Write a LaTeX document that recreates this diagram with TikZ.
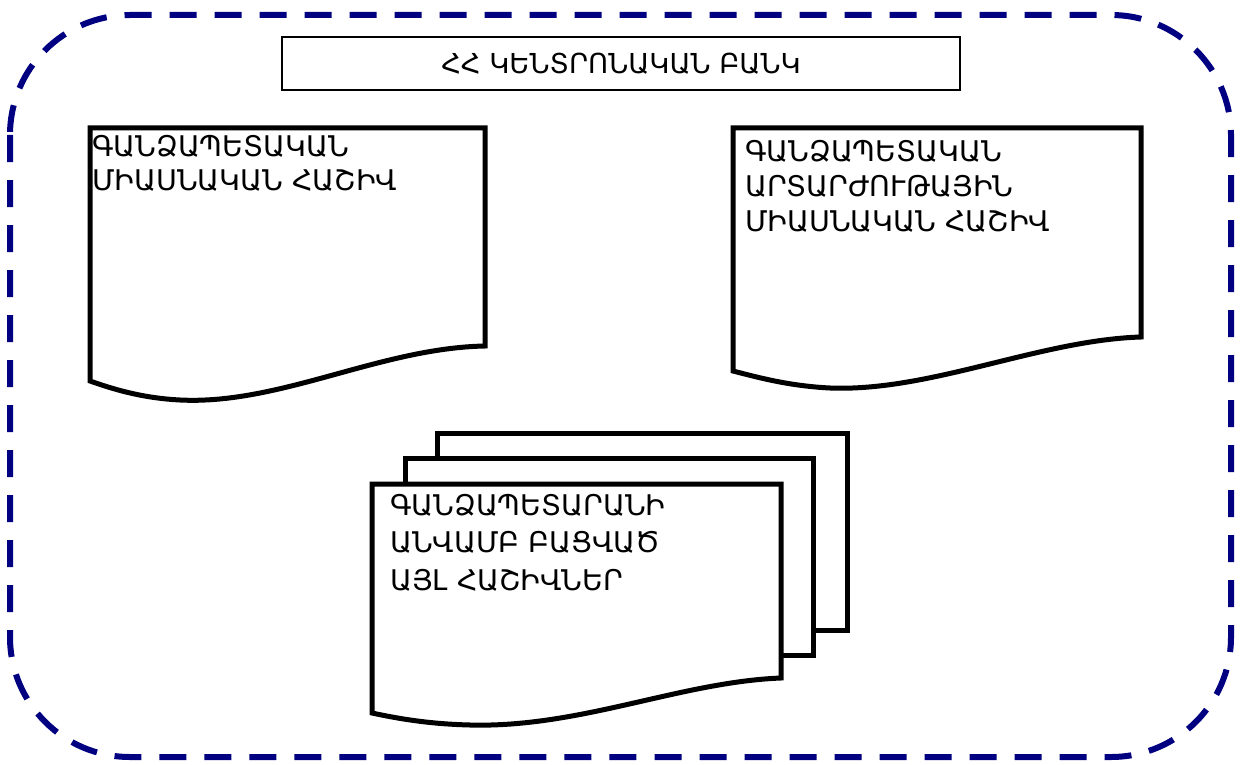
\documentclass[tikz,border=0pt]{standalone}
\usepackage{fontspec}
\newfontfamily\armfont{DejaVu Sans}
\definecolor{bordernavy}{RGB}{0,0,128}
\begin{document}
\begin{tikzpicture}[x=1pt,y=-1pt,
  docline/.style={line width=5pt, draw=black, fill=white, line join=miter},
  doctext/.style={anchor=north west, inner sep=0pt, align=left, font=\armfont\fontsize{28.5}{34}\selectfont},
  frame/.style={draw=bordernavy, line width=6pt, dash pattern=on 27pt off 18pt, rounded corners=120pt}]
\useasboundingbox (0,0) rectangle (1242,765);
\draw[frame] (10,15) rectangle (1231,757);
\node[draw=black, line width=1.5pt, minimum width=678pt, minimum height=53pt, inner sep=0pt,
  font=\armfont\fontsize{27.5}{32}\selectfont] (title) at (621,63.5) {ՀՀ ԿԵՆՏՐՈՆԱԿԱՆ ԲԱՆԿ};
% left document
\draw[docline] (90,128) -- (485,128) -- (485,346)
  .. controls (380,348) and (280,405) .. (180,400)
  .. controls (140,398) and (110,388) .. (90,381) -- cycle;
\node[doctext] (docA) at (92,135) {ԳԱՆՁԱՊԵՏԱԿԱՆ\\ՄԻԱՍՆԱԿԱՆ ՀԱՇԻՎ};
% right document
\draw[docline] (733,128) -- (1141,128) -- (1141,337)
  .. controls (1040,340) and (930,392) .. (830,388)
  .. controls (790,386) and (760,378) .. (733,371) -- cycle;
\node[doctext, font=\armfont\fontsize{28.5}{35}\selectfont] (docB) at (745,140) {ԳԱՆՁԱՊԵՏԱԿԱՆ\\ԱՐՏԱՐԺՈՒԹԱՅԻՆ\\ՄԻԱՍՆԱԿԱՆ ՀԱՇԻՎ};
% stacked documents
\draw[docline] (437,433) rectangle (847,630);
\draw[docline] (405,458) rectangle (813,655);
\draw[docline] (372,484) -- (781,484) -- (781,678)
  .. controls (680,682) and (580,728) .. (470,725)
  .. controls (430,724) and (400,719) .. (372,713) -- cycle;
\node[doctext, font=\armfont\fontsize{28.5}{37.5}\selectfont] (docC) at (390,494) {ԳԱՆՁԱՊԵՏԱՐԱՆԻ\\ԱՆՎԱՄԲ ԲԱՑՎԱԾ\\ԱՅԼ ՀԱՇԻՎՆԵՐ};
\end{tikzpicture}
\end{document}
